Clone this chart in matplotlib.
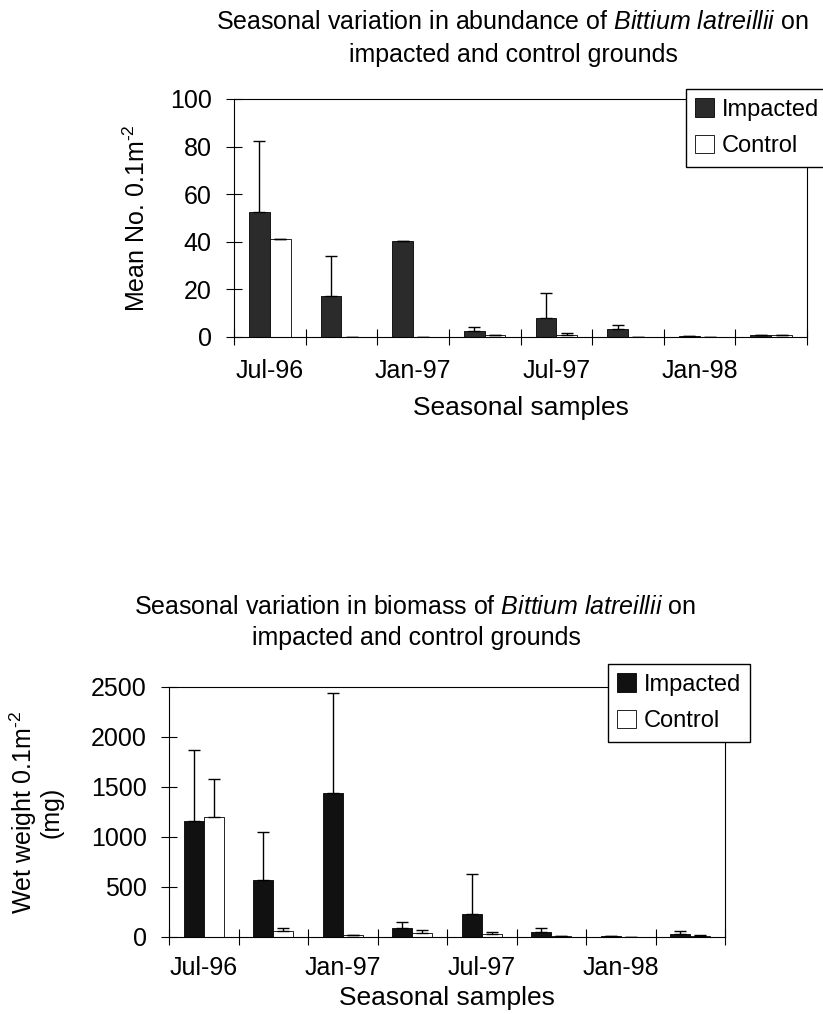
import matplotlib
matplotlib.use("Agg")
import matplotlib.pyplot as plt
import numpy as np

plt.rcParams['font.family'] = ['Liberation Sans', 'DejaVu Sans']
plt.rcParams['mathtext.fontset'] = 'custom'
plt.rcParams['mathtext.rm'] = 'Liberation Sans'
plt.rcParams['mathtext.it'] = 'Liberation Sans:italic'

# ---- data ----
categories = ['Jul-96', 'Oct-96', 'Jan-97', 'Apr-97', 'Jul-97', 'Oct-97', 'Jan-98', 'Apr-98']
tick_labels = ['Jul-96', '', 'Jan-97', '', 'Jul-97', '', 'Jan-98', '']

abund_impacted = [52.5, 17.2, 40.4, 2.5, 8.0, 3.5, 0.6, 0.8]
abund_impacted_err = [30.0, 17.0, 0.0, 1.8, 10.4, 1.5, 0.0, 0.0]
abund_control = [41.0, 0.2, 0.2, 0.8, 1.0, 0.2, 0.2, 0.8]
abund_control_err = [0.0, 0.0, 0.0, 0.0, 0.5, 0.0, 0.0, 0.0]

bio_impacted = [1160, 570, 1440, 90, 230, 50, 15, 30]
bio_impacted_err = [710, 480, 1000, 60, 400, 40, 0, 30]
bio_control = [1200, 60, 20, 40, 30, 10, 5, 15]
bio_control_err = [380, 35, 0, 30, 25, 0, 0, 10]

FS = 18
W, H = 823, 1014
fig = plt.figure(figsize=(W / 100, H / 100), dpi=100)


def draw(ax, imp, imp_err, ctl, ctl_err, ymax, ystep, imp_color, xpad):
    n = len(categories)
    centers = np.arange(n) + 0.5
    bw = 0.29
    ax.bar(centers - bw / 2, imp, bw, color=imp_color, edgecolor='black',
           linewidth=0.6, label='Impacted', zorder=2,
           yerr=[np.zeros(n), imp_err], capsize=4,
           error_kw=dict(elinewidth=1.0, capthick=1.0, ecolor='black'))
    ax.bar(centers + bw / 2, ctl, bw, color='white', edgecolor='black',
           linewidth=0.6, label='Control', zorder=2,
           yerr=[np.zeros(n), ctl_err], capsize=4,
           error_kw=dict(elinewidth=1.0, capthick=1.0, ecolor='black'))
    ax.set_xlim(0, n)
    ax.set_ylim(0, ymax)
    ax.set_yticks(np.arange(0, ymax + 1, ystep))
    ax.set_xticks(np.arange(0, n + 1))
    ax.set_xticklabels([])
    ax.set_xticks(centers, minor=True)
    ax.set_xticklabels(tick_labels, minor=True)
    ax.tick_params(axis='x', which='minor', length=0, pad=xpad, labelsize=FS)
    ax.tick_params(axis='x', which='major', direction='inout', length=12, width=0.8)
    ax.tick_params(axis='y', direction='inout', length=12, width=0.8,
                   labelsize=FS, pad=10)
    for s in ax.spines.values():
        s.set_linewidth(0.8)


leg_kw = dict(fontsize=FS - 1, frameon=True, fancybox=False, edgecolor='black',
              framealpha=1, handlelength=0.8, handleheight=0.8, handletextpad=0.3,
              borderpad=0.4, labelspacing=0.6, borderaxespad=0)

ax1 = fig.add_axes([234 / W, 1 - 337 / H, (807 - 234) / W, (337 - 99) / H])
draw(ax1, abund_impacted, abund_impacted_err, abund_control, abund_control_err,
     100, 20, '#2b2b2b', 16)
ax1.set_ylabel(r'Mean No. 0.1m$^{\mathregular{\text{-}2}}$', fontsize=FS, labelpad=14)
ax1.set_xlabel('Seasonal samples', fontsize=FS + 1, labelpad=9)
fig.text(512 / W, 1 - 22 / H,
         r'Seasonal variation in abundance of $\mathit{Bittium\ latreillii}$ on',
         ha='center', va='center', fontsize=FS)
fig.text(513 / W, 1 - 55 / H, 'impacted and control grounds',
         ha='center', va='center', fontsize=FS)
ax1.legend(loc='upper left', bbox_to_anchor=(686 / W, 1 - 89 / H),
           bbox_transform=fig.transFigure, **leg_kw)

ax2 = fig.add_axes([169 / W, 1 - 937 / H, (725 - 169) / W, (937 - 687) / H])
draw(ax2, bio_impacted, bio_impacted_err, bio_control, bio_control_err,
     2500, 500, '#111111', 14)
ax2.set_ylabel('Wet weight 0.1m$^{\\mathregular{\\text{-}2}}$\n(mg)', fontsize=FS,
               labelpad=20, linespacing=1.0)
ax2.set_xlabel('Seasonal samples', fontsize=FS + 1, labelpad=4)
fig.text(415 / W, 1 - 607 / H,
         r'Seasonal variation in biomass of $\mathit{Bittium\ latreillii}$ on',
         ha='center', va='center', fontsize=FS)
fig.text(416 / W, 1 - 638 / H, 'impacted and control grounds',
         ha='center', va='center', fontsize=FS)
ax2.legend(loc='upper left', bbox_to_anchor=(608 / W, 1 - 664 / H),
           bbox_transform=fig.transFigure, **leg_kw)

fig.savefig('out.png', dpi=100, facecolor='white')
